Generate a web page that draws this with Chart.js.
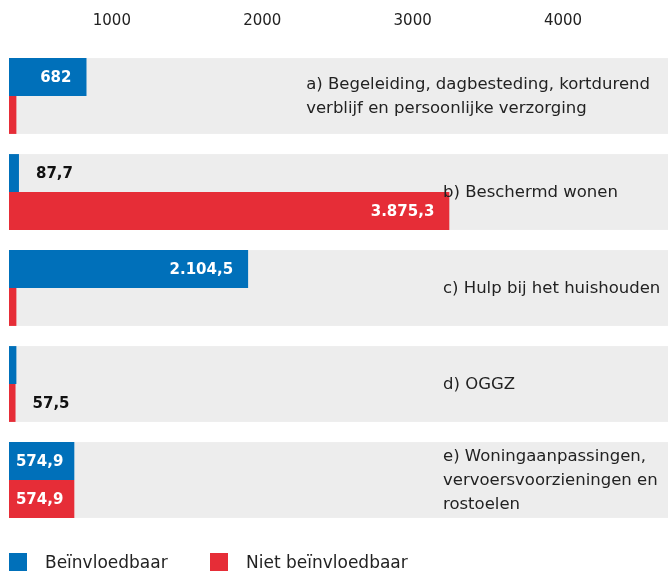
<!DOCTYPE html>
<html>
<head>
<meta charset="utf-8">
<script src="https://cdn.jsdelivr.net/npm/chart.js@4.4.1/dist/chart.umd.min.js"></script>
<style>
  html, body { margin: 0; padding: 0; background: #fff; }
</style>
</head>
<body>
<canvas id="myChart" width="668" height="571"></canvas>
<script>
// categories (lines of the label inside each band)
var categories = [
  ["a) Begeleiding, dagbesteding, kortdurend", "verblijf en persoonlijke verzorging"],
  ["b) Beschermd wonen"],
  ["c) Hulp bij het huishouden"],
  ["d) OGGZ"],
  ["e) Woningaanpassingen,", "vervoersvoorzieningen en", "rostoelen"]
];
var beinvloedbaar = [682, 87.7, 2104.5, 65, 574.9];
var nietBeinvloedbaar = [65, 3875.3, 65, 57.5, 574.9];
// which bars carry a value label
var beinvloedbaarShow = [true, true, true, false, true];
var nietBeinvloedbaarShow = [false, true, false, true, true];
var tickValues = [1000, 2000, 3000, 4000];

var FONT = "'DejaVu Sans', sans-serif";
var BLUE = "#0070ba";
var RED = "#e62d37";
var BAND = "#ededed";
var CAT_PCT = 0.79;

function fmt(v) {
  return v.toLocaleString("nl-NL", { maximumFractionDigits: 1 });
}

// grey band behind each category
var bandPlugin = {
  id: "bands",
  beforeDatasetsDraw: function (chart) {
    var ctx = chart.ctx, y = chart.scales.y, area = chart.chartArea;
    var pitch = (area.bottom - area.top) / categories.length;
    ctx.save();
    ctx.fillStyle = BAND;
    categories.forEach(function (c, i) {
      var cy = y.getPixelForValue(i);
      var h = pitch * CAT_PCT;
      ctx.fillRect(area.left, cy - h / 2, chart.width - area.left, h);
    });
    ctx.restore();
  }
};

// value labels + category names
var textPlugin = {
  id: "texts",
  afterDatasetsDraw: function (chart) {
    var ctx = chart.ctx, y = chart.scales.y;
    var shows = [beinvloedbaarShow, nietBeinvloedbaarShow];
    ctx.save();
    ctx.font = "bold 15px " + FONT;
    ctx.textBaseline = "middle";
    chart.data.datasets.forEach(function (ds, d) {
      var meta = chart.getDatasetMeta(d);
      meta.data.forEach(function (bar, i) {
        if (!shows[d][i]) return;
        var txt = fmt(ds.data[i]);
        var w = ctx.measureText(txt).width;
        var len = bar.x - bar.base;
        if (len > w + 10) {
          ctx.fillStyle = "#fff";
          ctx.textAlign = "right";
          ctx.fillText(txt, bar.x - Math.min(15, (len - w) / 2 + 2), bar.y + 1);
        } else {
          ctx.fillStyle = "#111";
          ctx.textAlign = "left";
          ctx.fillText(txt, bar.x + 17, bar.y + 1);
        }
      });
    });

    ctx.font = "16.5px " + FONT;
    ctx.fillStyle = "#222";
    ctx.textAlign = "left";
    var lh = 24;
    categories.forEach(function (lines, i) {
      var maxW = 0;
      lines.forEach(function (l) { maxW = Math.max(maxW, ctx.measureText(l).width); });
      var x = 443;
      if (x + maxW > chart.width - 4) x = chart.width - 18 - maxW;
      var cy = y.getPixelForValue(i) + 1;
      var y0 = cy - (lines.length - 1) * lh / 2;
      lines.forEach(function (l, k) { ctx.fillText(l, x, y0 + k * lh); });
    });
    ctx.restore();
  }
};

// legend at the bottom
var legendPlugin = {
  id: "legendBoxes",
  afterDraw: function (chart) {
    var ctx = chart.ctx, left = chart.chartArea.left;
    ctx.save();
    ctx.font = "17px " + FONT;
    ctx.textBaseline = "middle";
    ctx.textAlign = "left";
    chart.data.datasets.forEach(function (ds, d) {
      var x = left + d * 201;
      ctx.fillStyle = ds.backgroundColor;
      ctx.fillRect(x, 553, 18, 18);
      ctx.fillStyle = "#222";
      ctx.fillText(ds.label, x + 36, 564);
    });
    ctx.restore();
  }
};

var ctx = document.getElementById("myChart").getContext("2d");
var chart = new Chart(ctx, {
  type: "bar",
  data: {
    labels: categories.map(function (c) { return c.join(" "); }),
    datasets: [
      {
        label: "Beïnvloedbaar",
        data: beinvloedbaar,
        backgroundColor: BLUE,
        barPercentage: 1,
        categoryPercentage: CAT_PCT
      },
      {
        label: "Niet beïnvloedbaar",
        data: nietBeinvloedbaar,
        backgroundColor: RED,
        barPercentage: 1,
        categoryPercentage: CAT_PCT
      }
    ]
  },
  options: {
    indexAxis: "y",
    responsive: false,
    animation: false,
    layout: { padding: { left: 9, right: 0, top: 0, bottom: 43 } },
    plugins: {
      legend: { display: false },
      tooltip: { enabled: false }
    },
    scales: {
      x: { display: false, min: 0, max: 5800 },
      x2: {
        type: "linear",
        position: "top",
        min: 316,
        max: 4698,
        afterBuildTicks: function (axis) {
          axis.ticks = tickValues.map(function (v) { return { value: v }; });
        },
        afterFit: function (axis) { axis.height = 48; },
        grid: { display: false, drawTicks: false },
        border: { display: false },
        ticks: {
          font: { family: FONT, size: 15 },
          color: "#222",
          padding: 18,
          maxRotation: 0,
          autoSkip: false,
          callback: function (v) { return String(v); }
        }
      },
      y: { display: false }
    }
  },
  plugins: [bandPlugin, textPlugin, legendPlugin]
});
</script>
</body>
</html>
